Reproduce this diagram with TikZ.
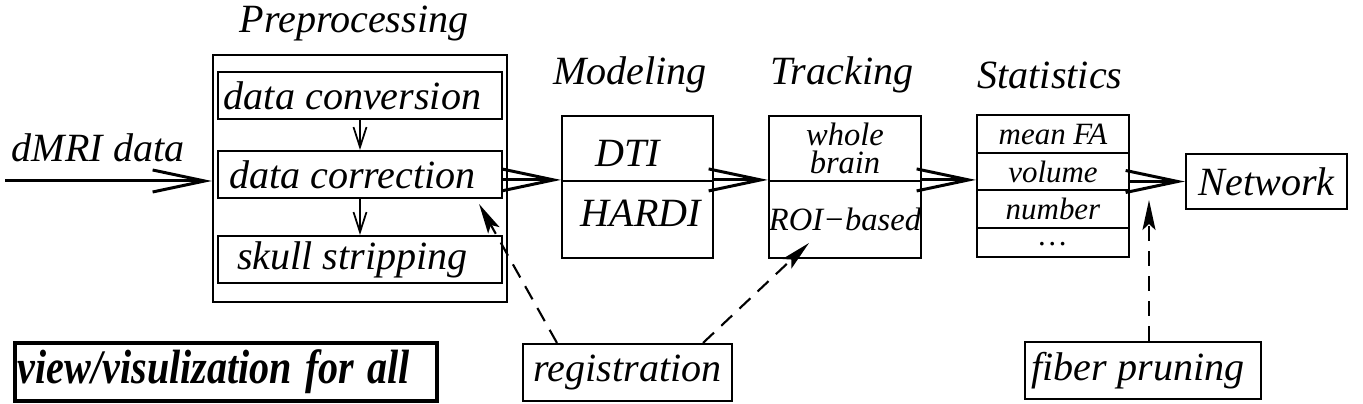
\documentclass[tikz,border=0pt]{standalone}
\usepackage{fontspec}
\setmainfont{Liberation Serif}
\usetikzlibrary{arrows.meta, calc, positioning}
\tikzset{
  box/.style args={#1/#2}{
    rectangle, draw=black, line width=0.6pt,
    inner sep=0pt, minimum width=#1, minimum height=#2,
    font=\fontsize{11.4}{13}\selectfont\itshape, align=center,
  },
  sbox/.style args={#1/#2}{
    box=#1/#2, font=\fontsize{9.25}{8}\selectfont\itshape,
  },
  rowbox/.style args={#1}{
    box=1.52cm/#1, font=\fontsize{8.8}{10}\selectfont\itshape,
  },
  ttl/.style={
    font=\fontsize{11.4}{13}\selectfont\itshape, inner sep=0pt,
  },
  arr/.style={
    -{Straight Barb[length=5.2mm,width=2.2mm]}, line width=0.85pt,
  },
  sarr/.style={
    -{Straight Barb[length=2mm,width=1.3mm]}, line width=0.5pt,
  },
  darr/.style={
    -{Stealth[length=3mm,width=1.3mm,inset=0.6mm]}, line width=0.6pt,
    dash pattern=on 1.5mm off 1mm,
  },
}
\begin{document}
\begin{tikzpicture}[x=0.01cm,y=-0.01cm]
    \useasboundingbox (0,0) rectangle (1363,404);

    % preprocessing block
    \node[ttl] (tpre) at (354,24) {Preprocessing};
    \node[box=2.94cm/2.47cm] (pre) at (360,178.5) {};
    \node[box=2.84cm/0.47cm] (conv) at (360,95.5) {data conversion\hspace{0.15cm}};
    \node[box=2.84cm/0.47cm] (corr) at (360,174.5) {data correction\hspace{0.15cm}};
    \node[box=2.84cm/0.47cm] (skull) at (360,259.5) {skull stripping\hspace{0.15cm}};
    \draw[sarr] (conv) -- (corr); \draw[sarr] (corr) -- (skull);

    % input
    \node[ttl] (tin) at (98,148) {dMRI data};
    \coordinate (in) at (5,181);
    \draw[arr] (in) -- (pre.west |- in);

    % modeling / tracking
    \node[ttl] (tmod) at (630,75) {Modeling};
    \node[box=1.51cm/0.65cm] (m1) at (637.5,148.5) {};
    \node[box=1.51cm/0.77cm] (m2) at (637.5,219.5) {};
    \node[ttl] (ldti) at (628,153) {DTI};
    \node[ttl] (lhardi) at (641,213) {HARDI};
    \node[ttl] (ttrk) at (842,75) {Tracking};
    \node[sbox=1.52cm/0.65cm] (t1) at (845,148.5) {whole\\brain};
    \node[sbox=1.52cm/0.77cm] (t2) at (845,219.5) {ROI−based};

    % statistics
    \node[ttl] (tsta) at (1050,75) {Statistics};
    \node[rowbox=0.38cm] (s1) at (1053,134) {mean FA};
    \node[rowbox=0.37cm] (s2) at (1053,171.5) {volume};
    \node[rowbox=0.38cm] (s3) at (1053,209) {number};
    \node[rowbox=0.29cm] (s4) at (1053,242.5) {\raisebox{-0.6mm}{\dots}};
    \node[box=1.61cm/0.55cm] (net) at (1266.5,181.5) {Network};

    \draw[arr] (corr.east |- m2.north west) -- (m2.north west);
    \draw[arr] (m2.north east) -- (t2.north west);
    \draw[arr] (t2.north east) -- (s2.west |- t2.north east);
    \draw[arr] (s2.east |- net.west) -- (net.west);

    % side tools
    \node[box=4.22cm/0.58cm, line width=1.1pt, inner xsep=0.03cm, text width=4.16cm, align=left,
          font=\fontsize{11.4}{13}\selectfont\bfseries\itshape] (view) at (226,372)
          {\scalebox{1}[1.2]{view/visulization for all}};
    \node[box=2.09cm/0.57cm] (reg) at (627.5,372.5) {registration};
    \node[box=2.36cm/0.57cm] (fib) at (1143,370.5) {fiber pruning\hspace{0.1cm}};
    \coordinate (prune) at (1149,200);

    \draw[darr] ([xshift=-0.705cm]reg.north) -- ([xshift=-0.24cm,yshift=-0.05cm]corr.south east);
    \draw[darr] ([xshift=0.755cm]reg.north) -- ([xshift=0.41cm,yshift=0.16cm]t2.south west);
    \draw[darr] (fib.north -| prune) -- (prune);
\end{tikzpicture}
\end{document}
